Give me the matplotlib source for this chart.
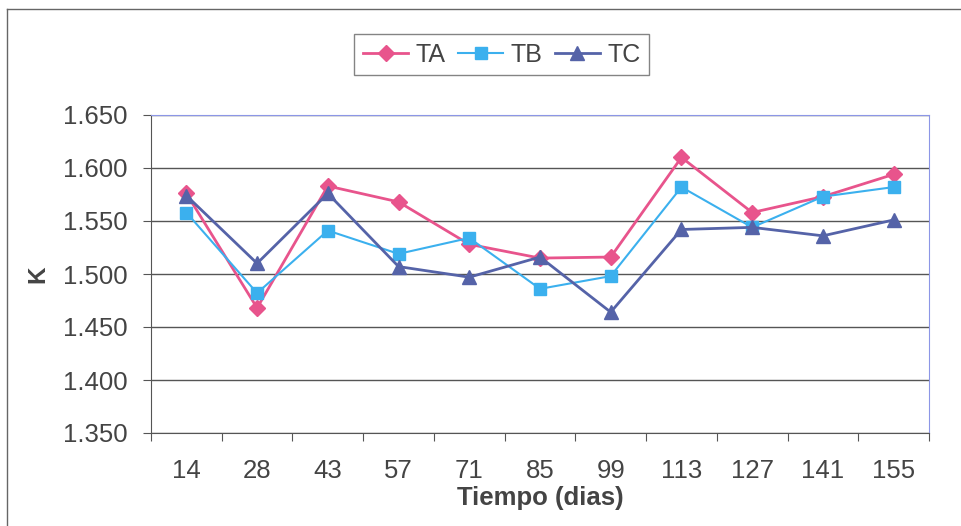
import matplotlib
matplotlib.use('Agg')
import matplotlib.pyplot as plt
from matplotlib.lines import Line2D
from matplotlib.ticker import FormatStrFormatter

dias = ['14', '28', '43', '57', '71', '85', '99', '113', '127', '141', '155']
ta = [1.576, 1.468, 1.583, 1.568, 1.528, 1.515, 1.516, 1.610, 1.558, 1.573, 1.594]
tb = [1.558, 1.482, 1.541, 1.519, 1.534, 1.486, 1.498, 1.582, 1.544, 1.573, 1.582]
tc = [1.574, 1.510, 1.576, 1.507, 1.497, 1.516, 1.464, 1.542, 1.544, 1.536, 1.551]

plt.rcParams['font.family'] = ['Liberation Sans', 'DejaVu Sans']

fig = plt.figure(figsize=(9.62, 5.26), dpi=100)
ax = fig.add_axes([151 / 962, 1 - 433 / 526, (929 - 151) / 962, (433 - 115) / 526])

x = list(range(len(dias)))
ax.plot(x, ta, color='#e8548c', marker='D', markersize=8, lw=2, label='TA')
ax.plot(x, tb, color='#3bb0ee', marker='s', markersize=8.5, lw=1.5, label='TB')
ax.plot(x, tc, color='#5563a8', marker='^', markersize=10, lw=2, label='TC')

ax.set_ylim(1.35, 1.65)
ax.set_yticks([1.35, 1.40, 1.45, 1.50, 1.55, 1.60, 1.65])
ax.yaxis.set_major_formatter(FormatStrFormatter('%.3f'))
ax.set_xlim(-0.5, len(dias) - 0.5)
ax.set_xticks([i - 0.5 for i in range(len(dias) + 1)])
ax.set_xticklabels([])
ax.set_xticks(x, minor=True)
ax.set_xticklabels(dias, minor=True)
ax.tick_params(axis='x', which='major', length=6, color='#555555')
ax.tick_params(axis='x', which='minor', length=0, pad=19, labelsize=18.5, labelcolor='#444444')
ax.tick_params(axis='y', length=6, pad=11, labelsize=18.5, labelcolor='#444444', color='#555555')

ax.grid(axis='y', color='#555555', lw=1)
ax.set_axisbelow(True)
for side in ['top', 'right']:
    ax.spines[side].set_color('#8c96e6')
ax.spines['left'].set_color('#555555')
ax.spines['bottom'].set_color('#555555')

ax.set_xlabel('Tiempo (dias)', fontsize=18.5, fontweight='bold', color='#444444', labelpad=2)
ax.set_ylabel('K', fontsize=17.5, fontweight='bold', color='#444444', labelpad=10)

leg = ax.legend(loc='lower center', bbox_to_anchor=(0.451, 1.125), ncol=3, fontsize=18,
                frameon=True, fancybox=False, edgecolor='#666666', handlelength=1.8,
                columnspacing=0.5, handletextpad=0.3, borderpad=0.35, borderaxespad=0)
for t in leg.get_texts():
    t.set_color('#444444')

# outer chart border (left and top visible in the picture)
fig.add_artist(Line2D([7 / 962, 7 / 962], [0, 1 - 9 / 526], transform=fig.transFigure, color='#666666', lw=1))
fig.add_artist(Line2D([7 / 962, 1], [1 - 9 / 526, 1 - 9 / 526], transform=fig.transFigure, color='#666666', lw=1))

fig.savefig('out.png', dpi=100)
